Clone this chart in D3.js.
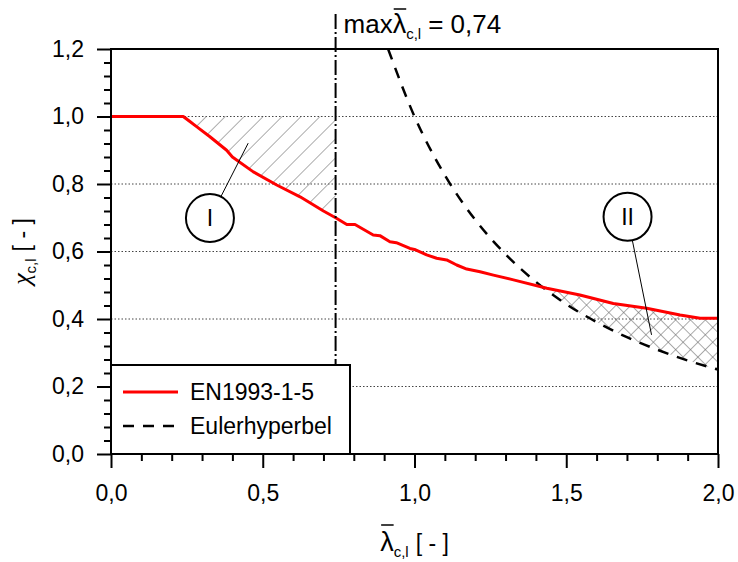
<!DOCTYPE html>
<html>
<head>
<meta charset="utf-8">
<script src="https://cdn.jsdelivr.net/npm/d3@7"></script>
<style>
  body { margin: 0; background: #fff; }
  text { font-family: "Liberation Sans", Arial, sans-serif; fill: #000; white-space: pre; }
</style>
</head>
<body>
<div id="chart"></div>
<script>
// red curve EN1993-1-5 (lambda, chi)
var redLambda = [0, 0.238, 0.26, 0.282, 0.326, 0.381, 0.40, 0.469, 0.546, 0.623, 0.70, 0.74, 0.777, 0.804,
    0.864, 0.886, 0.919, 0.94, 0.985, 1.0, 1.04, 1.073, 1.106, 1.139, 1.172, 1.216, 1.26, 1.326,
    1.436, 1.545, 1.655, 1.765, 1.875, 1.941, 2.0];
var redChi = [1.0, 1.0, 0.985, 0.97, 0.94, 0.90, 0.88, 0.836, 0.797, 0.762, 0.72, 0.70, 0.68, 0.68,
    0.649, 0.647, 0.629, 0.626, 0.609, 0.606, 0.59, 0.58, 0.575, 0.56, 0.548, 0.54, 0.53, 0.516,
    0.491, 0.471, 0.446, 0.432, 0.412, 0.402, 0.402];

// dashed Euler hyperbola
var eulerLambda = [0.913, 1.0, 1.1, 1.2, 1.3, 1.4, 1.5, 1.6, 1.7, 1.8, 1.9, 2.0];
var eulerChi = [1.2, 1.0, 0.826, 0.694, 0.592, 0.51, 0.444, 0.391, 0.346, 0.309, 0.277, 0.25];

var xMajor = [0, 0.5, 1.0, 1.5, 2.0];
var yMajor = [0, 0.2, 0.4, 0.6, 0.8, 1.0, 1.2];
var gridY = [0.2, 0.4, 0.6, 0.8, 1.0];

var maxLambda = 0.74;        // dash-dot line
var zoneI = [0.238, 0.74];   // hatched zone I
var zoneII = [1.3, 2.0];     // cross hatched zone II (clipped by the curves)

// circles with labels: centre and end of the leader, in data units
var markers = [
    {label: "I", lambda: 0.326, chi: 0.699, toLambda: 0.452, toChi: 0.921},
    {label: "II", lambda: 1.702, chi: 0.703, toLambda: 1.781, toChi: 0.353}
];

var legendItems = [
    {name: "EN1993-1-5", color: "#ff0000", dash: null, width: 3},
    {name: "Eulerhyperbel", color: "#000", dash: "11,9", width: 2.5}
];

var chart = (function() {

    var W = 738, H = 562;
    var left = 111, right = 718, top = 49, bottom = 454;
    var FS = 23;

    var x = d3.scaleLinear().domain([0, 2]).range([left, right]);
    var y = d3.scaleLinear().domain([0, 1.2]).range([bottom, top]);

    var comma = function(v) { return d3.format(".1f")(v).replace(".", ","); };

    var red = redLambda.map(function(l, i) { return {l: l, c: redChi[i]}; });
    var euler = eulerLambda.map(function(l, i) { return {l: l, c: eulerChi[i]}; });

    // writes text made of parts (subscripts, overlines) starting at x0, returns width
    function rich(g, parts, x0, y0) {
        var cx = x0;
        parts.forEach(function(p) {
            var fs = p.size || FS;
            if (p.sub) fs = 15;
            var t = g.append("text")
                .attr("x", cx)
                .attr("y", y0 + (p.sub ? 6 : 0))
                .style("font-size", fs + "px")
                .text(p.t);
            if (p.font) t.style("font-family", p.font);
            if (p.italic) t.style("font-style", "italic");
            var w = t.node().getComputedTextLength();
            if (p.over) {
                g.append("line")
                    .attr("x1", cx + 1).attr("x2", cx + w)
                    .attr("y1", y0 - p.over).attr("y2", y0 - p.over)
                    .attr("stroke", "#000").attr("stroke-width", 1.5);
            }
            cx += w + (p.gap || 0);
        });
        return cx - x0;
    }

    function patterns(svg) {
        var defs = svg.append("defs");

        defs.append("pattern")
            .attr("id", "hatch")
            .attr("patternUnits", "userSpaceOnUse")
            .attr("width", 13.4).attr("height", 13.4)
            .attr("patternTransform", "rotate(45)")
            .append("line")
            .attr("x1", 0).attr("y1", 0).attr("x2", 0).attr("y2", 13.4)
            .attr("stroke", "#777").attr("stroke-width", 1.2);

        var cross = defs.append("pattern")
            .attr("id", "cross")
            .attr("patternUnits", "userSpaceOnUse")
            .attr("width", 10.5).attr("height", 10.5)
            .attr("patternTransform", "rotate(45)");
        cross.append("line")
            .attr("x1", 0).attr("y1", 0).attr("x2", 0).attr("y2", 10.5)
            .attr("stroke", "#666").attr("stroke-width", 1.1);
        cross.append("line")
            .attr("x1", 0).attr("y1", 0).attr("x2", 10.5).attr("y2", 0)
            .attr("stroke", "#666").attr("stroke-width", 1.1);

        defs.append("clipPath").attr("id", "plotClip")
            .append("rect")
            .attr("x", left).attr("y", top)
            .attr("width", right - left).attr("height", bottom - top);

        // everything below the red curve
        defs.append("clipPath").attr("id", "belowRed")
            .append("path")
            .attr("d", d3.area()
                .x(function(d) { return x(d.l); })
                .y0(y(0))
                .y1(function(d) { return y(d.c); })(red));
    }

    function draw(svg) {

        patterns(svg);

        // dotted grid
        svg.append("g").selectAll("line")
            .data(gridY)
            .enter()
            .append("line")
            .attr("x1", left).attr("x2", right)
            .attr("y1", function(d) { return y(d); })
            .attr("y2", function(d) { return y(d); })
            .attr("stroke", "#444")
            .attr("stroke-width", 1)
            .attr("stroke-dasharray", "1.5,2");

        // zone I : between chi = 1 and the red curve
        var inI = red.filter(function(d) { return d.l >= zoneI[0] && d.l <= zoneI[1]; });
        svg.append("path")
            .attr("d", d3.area()
                .x(function(d) { return x(d.l); })
                .y0(function(d) { return y(d.c); })
                .y1(y(1.0))(inI))
            .attr("fill", "url(#hatch)");

        // zone II : above the Euler curve, clipped below the red curve
        var inII = euler.filter(function(d) { return d.l >= zoneII[0]; });
        svg.append("g").attr("clip-path", "url(#belowRed)")
            .append("path")
            .attr("d", d3.area()
                .x(function(d) { return x(d.l); })
                .y0(function(d) { return y(d.c); })
                .y1(y(1.2))
                .curve(d3.curveMonotoneX)(inII))
            .attr("fill", "url(#cross)");

        // Euler hyperbola
        svg.append("path")
            .attr("clip-path", "url(#plotClip)")
            .attr("d", d3.line()
                .x(function(d) { return x(d.l); })
                .y(function(d) { return y(d.c); })
                .curve(d3.curveMonotoneX)(euler))
            .attr("fill", "none")
            .attr("stroke", "#000")
            .attr("stroke-width", 2.5)
            .attr("stroke-dasharray", "11,9");

        // EN1993-1-5
        svg.append("path")
            .attr("d", d3.line()
                .x(function(d) { return x(d.l); })
                .y(function(d) { return y(d.c); })(red))
            .attr("fill", "none")
            .attr("stroke", "#ff0000")
            .attr("stroke-width", 3)
            .attr("stroke-linejoin", "round");

        // dash-dot line at max lambda
        svg.append("line")
            .attr("x1", x(maxLambda)).attr("x2", x(maxLambda))
            .attr("y1", 14).attr("y2", bottom)
            .attr("stroke", "#000")
            .attr("stroke-width", 2)
            .attr("stroke-dasharray", "15,3,2,3");

        rich(svg, [
            {t: "max", size: 26},
            {t: "\u03bb", size: 27, over: 24},
            {t: "c,l", sub: true, gap: 7},
            {t: "= 0,74", size: 26}
        ], x(maxLambda) + 8, 33);

        // legend
        var lg = svg.append("g");
        lg.append("rect")
            .attr("x", left).attr("y", 365)
            .attr("width", 239).attr("height", bottom - 365)
            .attr("fill", "#fff")
            .attr("stroke", "#000")
            .attr("stroke-width", 2);
        var row = lg.selectAll("g.row")
            .data(legendItems)
            .enter()
            .append("g")
            .attr("class", "row")
            .attr("transform", function(d, i) { return "translate(0," + (392 + i * 34) + ")"; });
        row.append("line")
            .attr("x1", left + 12).attr("x2", left + 67)
            .attr("stroke", function(d) { return d.color; })
            .attr("stroke-width", function(d) { return d.width; })
            .attr("stroke-dasharray", function(d) { return d.dash; });
        row.append("text")
            .attr("x", left + 79)
            .attr("y", 8)
            .style("font-size", FS + "px")
            .text(function(d) { return d.name; });

        // frame
        svg.append("rect")
            .attr("x", left).attr("y", top)
            .attr("width", right - left).attr("height", bottom - top)
            .attr("fill", "none")
            .attr("stroke", "#000")
            .attr("stroke-width", 2);

        // axes: majors with labels, minors without
        var xMinor = d3.range(0, 2.001, 0.1).filter(function(v) { return Math.abs(v * 2 - Math.round(v * 2)) > 1e-6; });
        var yMinor = d3.range(0, 1.201, 0.04).filter(function(v) { return Math.abs(v * 5 - Math.round(v * 5)) > 1e-6; });

        var gx = svg.append("g").attr("transform", "translate(0," + bottom + ")");
        gx.call(d3.axisBottom(x).tickValues(xMajor).tickSize(14).tickPadding(17).tickFormat(comma));
        gx.append("g").call(d3.axisBottom(x).tickValues(xMinor).tickSize(7).tickFormat(""));

        var gy = svg.append("g").attr("transform", "translate(" + left + ",0)");
        gy.call(d3.axisLeft(y).tickValues(yMajor).tickSize(14).tickPadding(13).tickFormat(comma));
        gy.append("g").call(d3.axisLeft(y).tickValues(yMinor).tickSize(7).tickFormat(""));

        svg.selectAll(".domain").remove();
        svg.selectAll(".tick line").attr("stroke", "#000").attr("stroke-width", 2);
        svg.selectAll(".tick text")
            .style("font-size", FS + "px")
            .style("font-family", "Liberation Sans, Arial, sans-serif")
            .attr("fill", "#000");

        // circles I and II with leaders
        var mk = svg.append("g").selectAll("g")
            .data(markers)
            .enter()
            .append("g");
        mk.append("line")
            .attr("x1", function(d) { return x(d.lambda); })
            .attr("y1", function(d) { return y(d.chi); })
            .attr("x2", function(d) { return x(d.toLambda); })
            .attr("y2", function(d) { return y(d.toChi); })
            .attr("stroke", "#000")
            .attr("stroke-width", 1);
        mk.append("circle")
            .attr("cx", function(d) { return x(d.lambda); })
            .attr("cy", function(d) { return y(d.chi); })
            .attr("r", 24)
            .attr("fill", "#fff")
            .attr("stroke", "#000")
            .attr("stroke-width", 2);
        mk.append("text")
            .attr("x", function(d) { return x(d.lambda); })
            .attr("y", function(d) { return y(d.chi) + 8; })
            .attr("text-anchor", "middle")
            .style("font-size", FS + "px")
            .text(function(d) { return d.label; });

        // x label, centred under the plot
        var xl = svg.append("g");
        var wx = rich(xl, [
            {t: "\u03bb", size: 27, over: 26},
            {t: "c,l", sub: true, gap: 7},
            {t: "[ - ]"}
        ], 0, 551);
        xl.attr("transform", "translate(" + ((left + right) / 2 - wx / 2) + ",0)");

        // y label, rotated
        var yl = svg.append("g");
        var inner = yl.append("g");
        var wy = rich(inner, [
            {t: "\u03c7", font: "Liberation Serif, serif", italic: true, size: 26},
            {t: "c,l", sub: true, gap: 7},
            {t: "[ - ]"}
        ], 0, 0);
        inner.attr("transform", "translate(" + (-wy / 2) + ",0)");
        yl.attr("transform", "translate(30," + ((top + bottom) / 2) + ") rotate(-90)");
    }

    return {
        render: function(placement) {
            d3.select(placement).html("");
            var svg = d3.select(placement).append("svg")
                .attr("width", W)
                .attr("height", H)
                .style("display", "block");
            svg.append("rect").attr("width", W).attr("height", H).attr("fill", "#fff");
            draw(svg);
        }
    };
})();

chart.render("#chart");
</script>
</body>
</html>
